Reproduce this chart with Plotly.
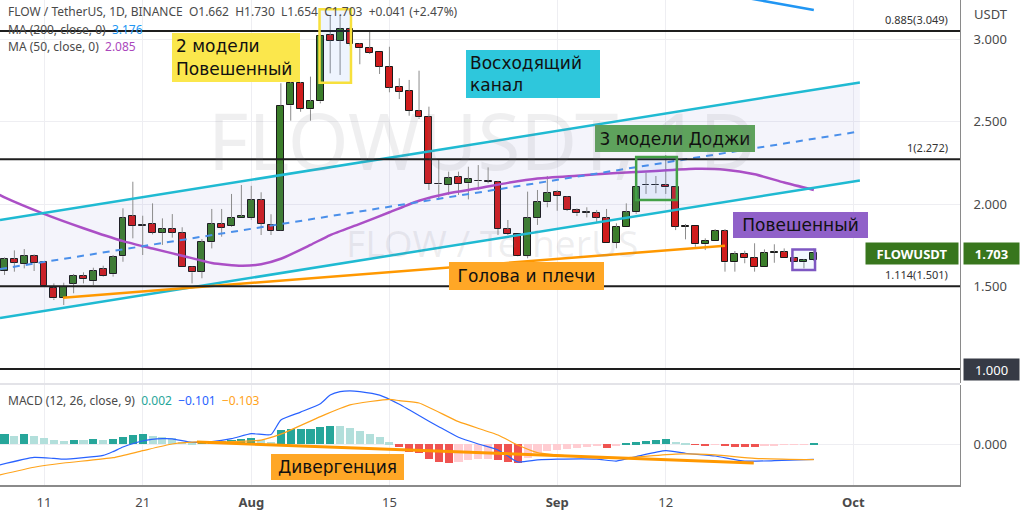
import numpy as np
import pandas as pd
import plotly.graph_objects as go

# ---------------- data ----------------
dates = pd.date_range("2022-07-07", periods=83, freq="D")

opens = [1.594, 1.665, 1.635, 1.685, 1.647, 1.493, 1.428, 1.517, 1.565, 1.533,
         1.604, 1.574, 1.683, 1.927, 1.866, 1.879, 1.826, 1.847, 1.826, 1.616,
         1.590, 1.768, 1.879, 1.867, 1.913, 1.913, 2.024, 1.873, 1.838, 2.598,
         2.732, 2.574, 2.622, 3.022, 2.990, 3.061, 2.970, 2.944, 2.923, 2.832,
         2.707, 2.685, 2.564, 2.529, 2.119, 2.115, 2.165, 2.125, 2.137, 2.138,
         2.135, 1.846, 1.818, 1.685, 1.913, 2.010, 2.071, 2.044, 1.964, 1.945,
         1.944, 1.913, 1.765, 1.859, 1.950, 2.113, 2.113, 2.115, 2.101, 1.860,
         1.867, 1.756, 1.776, 1.836, 1.647, 1.695, 1.675, 1.616, 1.703, 1.707,
         1.671, 1.647, 1.662]
highs = [1.677, 1.719, 1.727, 1.695, 1.652, 1.519, 1.523, 1.576, 1.586, 1.614,
         1.626, 1.691, 1.974, 2.135, 1.929, 2.004, 1.913, 1.939, 1.859, 1.620,
         1.788, 1.970, 1.970, 2.061, 2.115, 2.110, 2.071, 1.938, 2.732, 2.752,
         2.740, 2.772, 3.030, 3.145, 3.145, 3.070, 2.974, 3.050, 2.923, 2.953,
         2.762, 2.752, 2.808, 2.590, 2.267, 2.196, 2.196, 2.226, 2.236, 2.222,
         2.141, 1.903, 1.818, 2.075, 2.085, 2.170, 2.085, 2.048, 1.974, 1.980,
         1.964, 1.970, 1.883, 2.004, 2.110, 2.190, 2.170, 2.297, 2.101, 1.879,
         1.867, 1.792, 1.848, 1.848, 1.715, 1.717, 1.762, 1.725, 1.756, 1.731,
         1.680, 1.667, 1.730]
lows = [1.570, 1.590, 1.610, 1.594, 1.500, 1.418, 1.388, 1.459, 1.519, 1.509,
        1.560, 1.560, 1.650, 1.792, 1.691, 1.816, 1.752, 1.796, 1.616, 1.519,
        1.550, 1.731, 1.802, 1.862, 1.913, 1.905, 1.812, 1.812, 1.836, 2.505,
        2.559, 2.505, 2.610, 2.792, 2.782, 2.960, 2.847, 2.909, 2.788, 2.677,
        2.636, 2.535, 2.515, 2.085, 2.024, 2.055, 2.055, 2.028, 2.085, 2.125,
        1.812, 1.812, 1.683, 1.671, 1.873, 1.980, 1.959, 1.958, 1.927, 1.919,
        1.887, 1.765, 1.732, 1.859, 1.940, 2.061, 2.065, 2.061, 1.842, 1.786,
        1.741, 1.721, 1.776, 1.590, 1.590, 1.641, 1.590, 1.616, 1.644, 1.671,
        1.647, 1.610, 1.654]
closes = [1.665, 1.644, 1.685, 1.644, 1.503, 1.428, 1.495, 1.565, 1.545, 1.594,
          1.564, 1.677, 1.913, 1.867, 1.869, 1.826, 1.847, 1.826, 1.616, 1.586,
          1.768, 1.879, 1.856, 1.913, 1.927, 2.024, 1.880, 1.836, 2.596, 2.732,
          2.576, 2.622, 3.020, 2.990, 3.061, 2.970, 2.944, 2.917, 2.832, 2.705,
          2.681, 2.564, 2.525, 2.121, 2.123, 2.159, 2.121, 2.150, 2.140, 2.134,
          1.848, 1.818, 1.685, 1.917, 2.010, 2.065, 2.048, 1.964, 1.944, 1.948,
          1.917, 1.765, 1.859, 1.950, 2.105, 2.117, 2.117, 2.101, 1.862, 1.864,
          1.756, 1.778, 1.836, 1.647, 1.695, 1.671, 1.616, 1.701, 1.707, 1.671,
          1.647, 1.661, 1.703]

macd_hist = [0.064, 0.055, 0.064, 0.055,
             0.037, 0.026, 0.022, 0.026, 0.025, 0.031, 0.024, 0.031, 0.048, 0.059,
             0.064, 0.053, 0.048, 0.037, 0.015, 0.009, 0.015, 0.020, 0.022, 0.026,
             0.031, 0.037, 0.026, 0.015, 0.092, 0.096, 0.097, 0.099, 0.114, 0.121,
             0.118, 0.103, 0.085, 0.064, 0.044, 0.011, -0.018, -0.050, -0.057, -0.099,
             -0.116, -0.123, -0.118, -0.105, -0.100, -0.098, -0.108, -0.117, -0.122, -0.090,
             -0.060, -0.045, -0.040, -0.033, -0.025, -0.018, -0.012, -0.027, -0.010, 0.004,
             0.012, 0.020, 0.025, 0.030, 0.015, 0.006, -0.005, -0.007, -0.004, -0.012,
             -0.018, -0.020, -0.022, -0.012, -0.008, -0.006, -0.004, -0.002, 0.002]

macd_dates = ["2022-07-06 12:00", "2022-07-10", "2022-07-12", "2022-07-13", "2022-07-17",
              "2022-07-18", "2022-07-19", "2022-07-21", "2022-07-23", "2022-07-24",
              "2022-07-26", "2022-07-28", "2022-07-30", "2022-08-01", "2022-08-03",
              "2022-08-04", "2022-08-06", "2022-08-08", "2022-08-09", "2022-08-10",
              "2022-08-11", "2022-08-12", "2022-08-14", "2022-08-16", "2022-08-17",
              "2022-08-19", "2022-08-20", "2022-08-22", "2022-08-24", "2022-08-26",
              "2022-08-28", "2022-08-30", "2022-09-01", "2022-09-05", "2022-09-07",
              "2022-09-09", "2022-09-12", "2022-09-14", "2022-09-17", "2022-09-20",
              "2022-09-23", "2022-09-27"]
macd_line = [-0.138, -0.088, -0.095, -0.100, -0.075, -0.050, -0.020, 0.020, 0.035, 0.034,
             0.011, 0.016, 0.035, 0.068, 0.062, 0.158, 0.210, 0.265, 0.322, 0.345,
             0.350, 0.345, 0.322, 0.262, 0.225, 0.150, 0.114, 0.044, 0.000, -0.039,
             -0.118, -0.105, -0.100, -0.100, -0.112, -0.083, -0.044, -0.061, -0.079, -0.112,
             -0.110, -0.101]

signal_dates = ["2022-07-06 12:00", "2022-07-10", "2022-07-13", "2022-07-18", "2022-07-21",
                "2022-07-24", "2022-07-27", "2022-07-30", "2022-08-02", "2022-08-04",
                "2022-08-08", "2022-08-11", "2022-08-15", "2022-08-16", "2022-08-18",
                "2022-08-22", "2022-08-26", "2022-08-28", "2022-08-30", "2022-09-03",
                "2022-09-07", "2022-09-13", "2022-09-17", "2022-09-21", "2022-09-27"]
signal_line = [-0.204, -0.153, -0.125, -0.090, -0.044, 0.000, 0.015, 0.015, 0.026, 0.065,
               0.180, 0.257, 0.294, 0.285, 0.270, 0.147, 0.059, -0.007, -0.057, -0.083,
               -0.094, -0.066, -0.072, -0.094, -0.103]

ma50_dates = ["2022-07-06 12:00", "2022-07-07", "2022-07-11", "2022-07-15", "2022-07-19",
              "2022-07-22", "2022-07-25", "2022-07-28", "2022-07-31", "2022-08-02",
              "2022-08-04", "2022-08-07", "2022-08-09", "2022-08-12", "2022-08-15",
              "2022-08-18", "2022-08-21", "2022-08-24", "2022-08-27", "2022-08-30",
              "2022-09-03", "2022-09-07", "2022-09-11", "2022-09-15", "2022-09-18",
              "2022-09-21", "2022-09-24", "2022-09-27"]
ma50_vals = [2.055, 2.040, 1.940, 1.853, 1.775, 1.730, 1.687, 1.643, 1.626, 1.635,
             1.668, 1.752, 1.812, 1.880, 1.950, 2.020, 2.065, 2.095, 2.128, 2.155,
             2.172, 2.188, 2.200, 2.213, 2.208, 2.180, 2.130, 2.085]

ma200_dates = ["2022-09-19", "2022-09-27"]
ma200_vals = [3.262, 3.176]

# drawings (date, price)
channel_dates = ["2022-07-06 13:00", "2022-10-01 16:00"]
channel_upper = [1.903, 2.737]
channel_mid = [1.606, 2.440]
channel_lower = [1.309, 2.143]
hs_dates = ["2022-07-12 22:00", "2022-09-18 00:00"]
hs_vals = [1.432, 1.747]
div_dates = ["2022-07-26 12:00", "2022-09-20 22:00"]
div_vals = [0.013, -0.125]
fib_levels = [3.049, 2.272, 1.501]
fib_labels = ["0.885(3.049)", "1(2.272)", "1.114(1.501)"]

x_tickvals = ["2022-07-11", "2022-07-21", "2022-08-01", "2022-08-15", "2022-09-01", "2022-09-12", "2022-10-01"]
x_ticktext = ["11", "21", "<b>Aug</b>", "15", "<b>Sep</b>", "12", "<b>Oct</b>"]
y_tickvals = [1.5, 2.0, 2.5, 3.0]
y_ticktext = ["1.500", "2.000", "2.500", "3.000"]

# ---------------- styling ----------------
GREEN = "#3b7d2a"
RED = "#d01c1c"
GRID = "#eeeef2"
AXIS = "#8a8a8a"
TXT = "#4a4a4a"
FONT = "Noto Sans"
LBL_FONT = "DejaVu Sans"

o = np.array(opens); h = np.array(highs); l = np.array(lows); c = np.array(closes)
up = c >= o
body_base = np.minimum(o, c)
body_h = np.maximum(np.abs(c - o), 0.004)
body_col = np.where(up, GREEN, RED)

wx, wy = [], []
for t, oo, hh, ll, cc in zip(dates, o, h, l, c):
    top, bot = max(oo, cc), min(oo, cc)
    if hh > top:
        wx += [t, t, None]; wy += [top, hh, None]
    if ll < bot:
        wx += [t, t, None]; wy += [ll, bot, None]

hist = np.array(macd_hist)
hist_col = []
for i, v in enumerate(hist):
    prev = hist[i - 1] if i > 0 else v
    if v >= 0:
        hist_col.append("#26a69a" if v >= prev else "#b2dfdb")
    else:
        hist_col.append("#ef5350" if v < prev else "#ffcdd2")

DAY = 86400000

fig = go.Figure()

# channel fill
fig.add_trace(go.Scatter(
    x=[channel_dates[0], channel_dates[1], channel_dates[1], channel_dates[0]],
    y=[channel_upper[0], channel_upper[1], channel_lower[1], channel_lower[0]],
    fill="toself", fillcolor="rgba(120,110,200,0.08)", line=dict(width=0),
    mode="lines", hoverinfo="skip"))

# candles
fig.add_trace(go.Bar(x=dates, y=body_h, base=body_base, width=0.7 * DAY,
                     marker=dict(color=body_col, line=dict(color="#1a1a1a", width=1))))
fig.add_trace(go.Scatter(x=wx, y=wy, mode="lines", line=dict(color="#8c8c8c", width=1),
                         hoverinfo="skip"))

# MA lines
fig.add_trace(go.Scatter(x=ma50_dates, y=ma50_vals, mode="lines",
                         line=dict(color="#ab4fc6", width=2.5, shape="spline", smoothing=0.6)))
fig.add_trace(go.Scatter(x=ma200_dates, y=ma200_vals, mode="lines",
                         line=dict(color="#2196f3", width=2.5)))

# channel lines
fig.add_trace(go.Scatter(x=channel_dates, y=channel_upper, mode="lines",
                         line=dict(color="#1fbad2", width=2.5)))
fig.add_trace(go.Scatter(x=channel_dates, y=channel_lower, mode="lines",
                         line=dict(color="#1fbad2", width=2.5)))
fig.add_trace(go.Scatter(x=channel_dates, y=channel_mid, mode="lines",
                         line=dict(color="#4a8fea", width=2, dash="7px,6px")))
# head & shoulders line
fig.add_trace(go.Scatter(x=hs_dates, y=hs_vals, mode="lines",
                         line=dict(color="#ff9800", width=2.5)))

# MACD pane
fig.add_trace(go.Bar(x=dates, y=hist, width=0.82 * DAY, marker=dict(color=hist_col, line=dict(width=0)),
                     yaxis="y2"))
fig.add_trace(go.Scatter(x=macd_dates, y=macd_line, mode="lines", yaxis="y2",
                         line=dict(color="#2962ff", width=1.2, shape="spline", smoothing=0.5)))
fig.add_trace(go.Scatter(x=signal_dates, y=signal_line, mode="lines", yaxis="y2",
                         line=dict(color="#ffa31a", width=1.2, shape="spline", smoothing=0.5)))
fig.add_trace(go.Scatter(x=div_dates, y=div_vals, mode="lines", yaxis="y2",
                         line=dict(color="#ff9800", width=3)))

shapes = []
for lv in fib_levels + [1.0]:
    shapes.append(dict(type="line", xref="paper", x0=0, x1=1, yref="y", y0=lv, y1=lv,
                       line=dict(color="#1e1e1e", width=2)))
# rectangles
shapes.append(dict(type="rect", xref="x", yref="y", x0="2022-08-07 22:00", x1="2022-08-11 02:30",
                   y0=2.735, y1=3.18, line=dict(color="#f7e03c", width=2.5),
                   fillcolor="rgba(33,120,243,0.08)"))
shapes.append(dict(type="rect", xref="x", yref="y", x0="2022-09-09 00:00", x1="2022-09-13 03:00",
                   y0=2.024, y1=2.285, line=dict(color="#43a047", width=2.5),
                   fillcolor="rgba(33,120,243,0.08)"))
shapes.append(dict(type="rect", xref="x", yref="y", x0="2022-09-24 20:00", x1="2022-09-27 03:00",
                   y0=1.600, y1=1.725, line=dict(color="#7e57c2", width=2.5),
                   fillcolor="rgba(33,120,243,0.06)"))
# pane separator
shapes.append(dict(type="line", xref="paper", yref="paper", x0=0, x1=1, y0=0.2083, y1=0.2083,
                   line=dict(color="#e3e3e8", width=2)))

ann = []
def box(text, x, y, w, hgt, bg, yref="y", align="center", size=17):
    ann.append(dict(text=text, x=x, y=y, xref="x", yref=yref, showarrow=False,
                    xanchor="center", yanchor="middle", width=w - 8, height=hgt,
                    align=align, bgcolor=bg, borderpad=4, borderwidth=0,
                    font=dict(family=LBL_FONT, size=size, color="#111")))

box("2 модели<br>Повешенный", "2022-07-30 11:00", 2.888, 128, 41, "#fbe74c", align="left")
box("Восходящий<br>канал", "2022-08-29 13:00", 2.788, 134, 40, "#2ec7dc", align="left")
box("3 модели Доджи", "2022-09-12 22:00", 2.397, 160, 19, "#5ea25c")
box("Повешенный", "2022-09-25 16:00", 1.873, 135, 18, "#9061c9")
box("Голова и плечи", "2022-08-28 21:00", 1.564, 155, 20, "#ffa726")
box("Дивергенция", "2022-08-09 18:00", -0.151, 133, 18, "#ffa726", yref="y2")

# watermark
ann.append(dict(text="FLOWUSDT, 1D", x=0.502, y=2.388, xref="paper", yref="y", showarrow=False,
                font=dict(family=FONT, size=78, color="rgba(120,123,134,0.12)")))
ann.append(dict(text="FLOW / TetherUS", x=0.513, y=1.764, xref="paper", yref="y", showarrow=False,
                font=dict(family=FONT, size=37, color="rgba(120,123,134,0.12)")))

# fib labels
for lv, lb in zip(fib_levels, fib_labels):
    ann.append(dict(text=lb, x=0.9896, y=lv, xref="paper", yref="y", showarrow=False,
                    xanchor="right", yanchor="bottom", yshift=2,
                    font=dict(family=FONT, size=11, color="#333")))

# legend texts
nb = "\u00a0"
ann.append(dict(text=f"FLOW / TetherUS, 1D, BINANCE{nb*2}O1.662{nb*2}H1.730{nb*2}L1.654{nb*2}C1.703{nb*2}+0.041 (+2.47%)",
                x=0.006, y=0.9753, xref="paper", yref="paper", showarrow=False, xanchor="left",
                yanchor="middle", font=dict(family=FONT, size=12, color=TXT)))
ann.append(dict(text=f"MA (200, close, 0){nb*2}<span style='color:#2196f3'>3.176</span>",
                x=0.006, y=0.9402, xref="paper", yref="paper", showarrow=False, xanchor="left",
                yanchor="middle", font=dict(family=FONT, size=12, color=TXT)))
ann.append(dict(text=f"MA (50, close, 0){nb*2}<span style='color:#ab47bc'>2.085</span>",
                x=0.006, y=0.9031, xref="paper", yref="paper", showarrow=False, xanchor="left",
                yanchor="middle", font=dict(family=FONT, size=12, color=TXT)))
ann.append(dict(text=(f"MACD (12, 26, close, 9){nb*2}<span style='color:#26a69a'>0.002</span>{nb*2}"
                      f"<span style='color:#2962ff'>\u22120.101</span>{nb*2}<span style='color:#ffa31a'>\u22120.103</span>"),
                x=0.006, y=0.1732, xref="paper", yref="paper", showarrow=False, xanchor="left",
                yanchor="middle", font=dict(family=FONT, size=12, color=TXT)))

# axis side labels
ann.append(dict(text="USDT", x=1.0125, y=0.971, xref="paper", yref="paper", showarrow=False,
                xanchor="left", yanchor="middle", font=dict(family=FONT, size=13, color=TXT)))
ann.append(dict(text="<b>FLOWUSDT</b>", x=0.999, y=1.703, xref="paper", yref="y", showarrow=False,
                xanchor="right", yanchor="middle", bgcolor="#38761d", borderpad=3, width=86, height=15,
                font=dict(family=FONT, size=13, color="white")))
ann.append(dict(text="<b>1.703</b>", x=1.003, y=1.703, xref="paper", yref="y", showarrow=False,
                xanchor="left", yanchor="middle", bgcolor="#38761d", borderpad=3, width=49, height=15,
                font=dict(family=FONT, size=13, color="white")))
ann.append(dict(text="1.000", x=1.003, y=1.0, xref="paper", yref="y", showarrow=False,
                xanchor="left", yanchor="middle", bgcolor="#363a45", borderpad=3, width=49, height=15,
                font=dict(family=FONT, size=13, color="white")))

fig.update_layout(
    width=1024, height=512, margin=dict(l=0, r=64, t=0, b=27),
    paper_bgcolor="white", plot_bgcolor="white", showlegend=False, barmode="overlay",
    bargap=0, shapes=shapes, annotations=ann,
    xaxis=dict(type="date", range=["2022-07-06 13:00", "2022-10-11 19:30"], anchor="y2",
               tickvals=x_tickvals, ticktext=x_ticktext, showgrid=True, gridcolor=GRID,
               showline=True, linecolor=AXIS, linewidth=2, ticks="", zeroline=False,
               tickfont=dict(family=FONT, size=13, color=TXT), ticklabelstandoff=4),
    yaxis=dict(domain=[0.2103, 1], range=[0.9152, 3.2364], side="right", anchor="x",
               tickvals=y_tickvals, ticktext=y_ticktext, showgrid=True, gridcolor=GRID,
               showline=True, linecolor=AXIS, linewidth=1, ticks="", zeroline=False,
               tickfont=dict(family=FONT, size=13, color=TXT), ticklabelstandoff=10),
    yaxis2=dict(domain=[0, 0.2062], range=[-0.2697, 0.3882], side="right", anchor="x",
                tickvals=[0], ticktext=["0.000"], showgrid=True, gridcolor=GRID,
                showline=True, linecolor=AXIS, linewidth=1, ticks="", zeroline=False,
                tickfont=dict(family=FONT, size=13, color=TXT), ticklabelstandoff=10),
)

fig.write_html("out.html", config={"displayModeBar": False},
               post_script="document.body.style.margin='0';document.body.style.overflow='hidden';")
